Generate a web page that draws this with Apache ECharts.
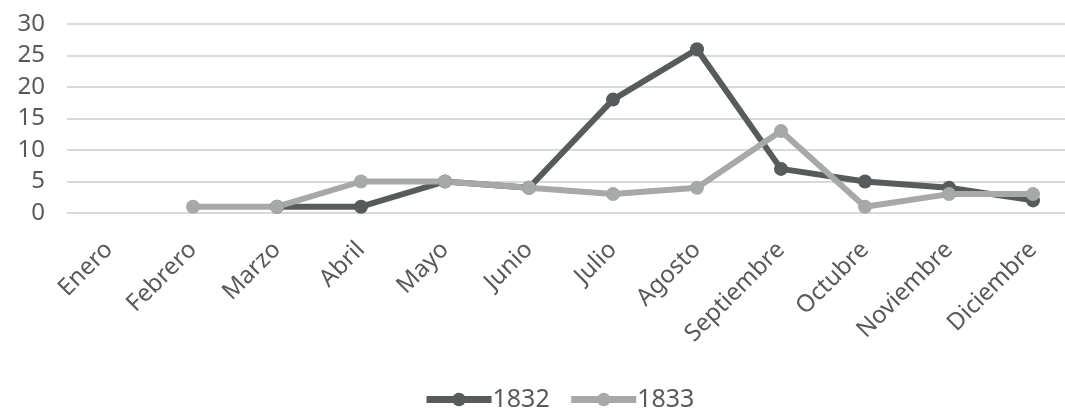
<!DOCTYPE html>
<html>
<head>
<meta charset="utf-8">
<title>1832 - 1833</title>
<script src="https://cdn.jsdelivr.net/npm/echarts@6/dist/echarts.min.js"></script>
<style>
  html, body { margin: 0; padding: 0; background: #fff; }
  #chart { width: 1065px; height: 408px; }
</style>
</head>
<body>
<div id="chart"></div>
<script>
var meses = ['Enero', 'Febrero', 'Marzo', 'Abril', 'Mayo', 'Junio', 'Julio', 'Agosto', 'Septiembre', 'Octubre', 'Noviembre', 'Diciembre'];
var datos1832 = ['-', '-', 1, 1, 5, 4, 18, 26, 7, 5, 4, 2];
var datos1833 = ['-', 1, 1, 5, 5, 4, 3, 4, 13, 1, 3, 3];
var ticksY = [0, 5, 10, 15, 20, 25, 30];

var txt = '#595959';
var chart = echarts.init(document.getElementById('chart'));

chart.setOption({
  animation: false,
  textStyle: { fontFamily: 'Noto Sans' },
  grid: { left: 67, right: -10, top: 24, bottom: 195, outerBoundsMode: 'none' },
  legend: {
    left: 418,
    bottom: -9,
    itemWidth: 65,
    itemHeight: 17,
    itemGap: 18,
    lineStyle: { width: 7 },
    textStyle: { color: txt, fontSize: 25, padding: [0, 0, 0, -4] },
    data: ['1832', '1833']
  },
  xAxis: {
    type: 'category',
    data: meses,
    boundaryGap: true,
    axisLine: { show: false },
    axisTick: { show: false },
    axisLabel: { rotate: 45, color: txt, fontSize: 24, margin: 33, interval: 0 }
  },
  yAxis: {
    type: 'value',
    min: ticksY[0],
    max: ticksY[ticksY.length - 1],
    interval: 5,
    axisLine: { show: false },
    axisTick: { show: false },
    axisLabel: { color: txt, fontSize: 24, margin: 22 },
    splitLine: { lineStyle: { color: '#d9d9d9', width: 2 } }
  },
  series: [
    {
      name: '1832',
      type: 'line',
      data: datos1832,
      symbol: 'circle',
      symbolSize: 14,
      lineStyle: { color: '#575b5c', width: 6 },
      itemStyle: { color: '#575b5c' }
    },
    {
      name: '1833',
      type: 'line',
      data: datos1833,
      symbol: 'circle',
      symbolSize: 14,
      lineStyle: { color: '#a7a9a9', width: 6 },
      itemStyle: { color: '#a7a9a9' }
    }
  ]
});
</script>
</body>
</html>
